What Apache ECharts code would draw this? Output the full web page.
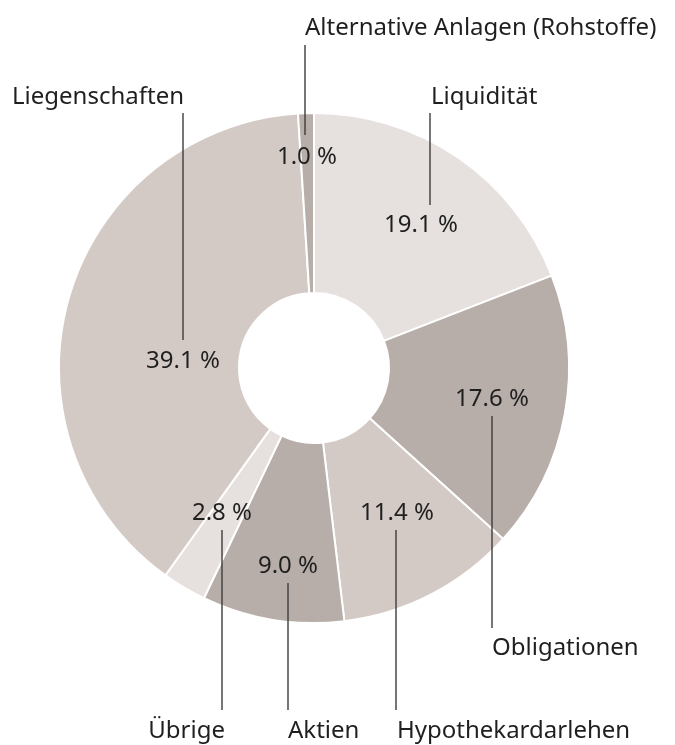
<!DOCTYPE html>
<html>
<head>
<meta charset="utf-8">
<script src="https://cdn.jsdelivr.net/npm/echarts@6/dist/echarts.min.js"></script>
<style>
html,body{margin:0;padding:0;background:#fff;}
#chart{width:675px;height:745px;}
</style>
</head>
<body>
<div id="chart"></div>
<script>
// Data
var categories = ['Liquidität', 'Obligationen', 'Hypothekardarlehen', 'Aktien', 'Übrige', 'Liegenschaften', 'Alternative Anlagen (Rohstoffe)'];
var shares = [19.1, 17.6, 11.4, 9.0, 2.8, 39.1, 1.0];

// Styles
var sliceColors = ['#e6e1df', '#b7ada9', '#d3cac6', '#b7ada9', '#e6e1df', '#d3cac6', '#b7ada9'];

// Layout of annotations (percent label centre, line, name label)
var pctPos = [[421, 225], [492, 399], [397, 513], [288, 566], [222, 513], [183, 361], [307, 157]];
var linePos = [[430, 113, 205], [492, 416, 628], [396, 530, 710], [288, 583, 710], [222, 530, 710], [183, 113, 340], [305, 45, 135]];
var namePos = [[431, 97, 'left'], [492, 648, 'left'], [397, 731, 'left'], [288, 731, 'left'], [225, 731, 'right'], [184, 97, 'right'], [305, 28, 'left']];

var FONT = '"Noto Sans", "DejaVu Sans", sans-serif';
var TEXT_COLOR = '#1f1f1f';

var graphics = [];
categories.forEach(function (name, i) {
  graphics.push({
    type: 'line', silent: true, z: 10,
    shape: { x1: linePos[i][0], y1: linePos[i][1], x2: linePos[i][0], y2: linePos[i][2] },
    style: { stroke: '#3c3c3c', lineWidth: 1.4 }
  });
  graphics.push({
    type: 'text', silent: true, z: 10,
    x: pctPos[i][0], y: pctPos[i][1],
    style: {
      text: shares[i].toFixed(1) + ' %',
      font: '24px ' + FONT, fill: TEXT_COLOR,
      align: 'center', verticalAlign: 'middle'
    }
  });
  graphics.push({
    type: 'text', silent: true, z: 10,
    x: namePos[i][0], y: namePos[i][1],
    style: {
      text: name,
      font: '24px ' + FONT, fill: TEXT_COLOR,
      align: namePos[i][2], verticalAlign: 'middle'
    }
  });
});

var chart = echarts.init(document.getElementById('chart'), null, { renderer: 'canvas' });
chart.setOption({
  animation: false,
  backgroundColor: '#ffffff',
  series: [{
    type: 'pie',
    center: [314, 368],
    radius: [75, 255],
    startAngle: 90,
    clockwise: true,
    avoidLabelOverlap: false,
    label: { show: false },
    labelLine: { show: false },
    emphasis: { disabled: true },
    itemStyle: { borderColor: '#ffffff', borderWidth: 2 },
    data: categories.map(function (n, i) {
      return { name: n, value: shares[i], itemStyle: { color: sliceColors[i] } };
    })
  }],
  graphic: graphics
});
</script>
</body>
</html>
